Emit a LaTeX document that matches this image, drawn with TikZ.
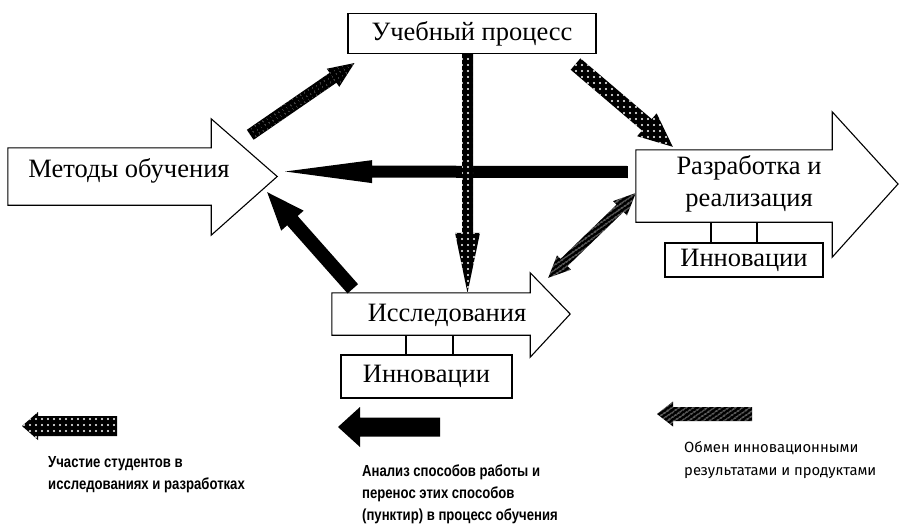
\documentclass[tikz,border=0pt]{standalone}
\usepackage{fontspec}
\setmainfont{Liberation Serif}
\newfontfamily\legsans[FakeStretch=0.82]{Liberation Sans}
\newfontfamily\leghuman{Fira Sans}
\usetikzlibrary{calc,patterns.meta}

\tikzset{
  frame/.style={draw, line width=1.1pt, fill=white, inner sep=0pt},
  body/.style={inner sep=0pt},
  outline/.style={draw, line width=1.1pt, fill=white, line join=miter},
  lbl/.style={font=\fontsize{26.5}{32}\selectfont, inner sep=0pt},
  legbold/.style={font=\legsans\bfseries\fontsize{16}{22}\selectfont, align=left, anchor=west, inner sep=0pt},
  leglight/.style={font=\leghuman\fontsize{14.8}{23}\selectfont, align=left, anchor=west, inner sep=0pt},
  dotsfill/.style={fill=black, postaction={pattern={Dots[radius=1.1pt,distance=6pt]}, pattern color=white}},
  darkfill/.style={fill=black, postaction={pattern={Dots[radius=0.6pt,distance=4pt,angle=30]}, pattern color=black!50}},
  swapfill/.style={fill=black, postaction={pattern={Lines[angle=35,distance=4pt,line width=0.6pt]}, pattern color=white}},
  solidfill/.style={fill=black}
}

% block arrow: style, from, to, half shaft, head length, half head
\newcommand\fatarrow[6]{%
  \coordinate (fa-h) at ($(#3)!#5!(#2)$);
  \fill[#1] ($(#2)!#4!90:(#3)$) -- ($(fa-h)!#4!90:(#3)$) -- ($(fa-h)!#6!90:(#3)$) -- (#3)
    -- ($(fa-h)!#6!-90:(#3)$) -- ($(fa-h)!#4!-90:(#3)$) -- ($(#2)!#4!-90:(#3)$) -- cycle;
}
% same with two heads
\newcommand\fatboth[6]{%
  \coordinate (fa-h) at ($(#3)!#5!(#2)$);
  \coordinate (fa-g) at ($(#2)!#5!(#3)$);
  \fill[#1] (#2) -- ($(fa-g)!#6!90:(#3)$) -- ($(fa-g)!#4!90:(#3)$) -- ($(fa-h)!#4!90:(#3)$)
    -- ($(fa-h)!#6!90:(#3)$) -- (#3) -- ($(fa-h)!#6!-90:(#3)$) -- ($(fa-h)!#4!-90:(#3)$)
    -- ($(fa-g)!#4!-90:(#3)$) -- ($(fa-g)!#6!-90:(#3)$) -- cycle;
}

\begin{document}
\begin{tikzpicture}[x=1pt, y=-1pt]
 \useasboundingbox (0,0) rectangle (902,527);

 % top box
 \node[frame, lbl, minimum width=248pt, minimum height=40pt] (uchp) at (472,33.5) {Учебный процесс};

 % methods
 \node[body, minimum width=203pt, minimum height=57pt] (metody) at (109.5,176.5) {};
 \coordinate (metody-tip) at ($(metody.east)+(66,0)$);
 \draw[outline] (metody.north west) -- (metody.north east) -- ++(0,-29) -- (metody-tip)
   -- ($(metody.south east)+(0,30)$) -- (metody.south east) -- (metody.south west) -- cycle;
 \node[lbl] (metodyt) at (129,171) {Методы обучения};

 % development
 \node[body, minimum width=196pt, minimum height=72pt] (razrab) at (734,186) {};
 \coordinate (razrab-tip) at (898,184);
 \draw[outline] (razrab.north west) -- (razrab.north east) -- ++(0,-38) -- (razrab-tip)
   -- ($(razrab.south east)+(0,35)$) -- (razrab.south east) -- (razrab.south west) -- cycle;
 \node[lbl, align=center] (razrabt) at (749,184) {Разработка и\\реализация};
 \node[frame, lbl, minimum width=158pt, minimum height=34pt] (innov1) at (744,260) {Инновации};
 \draw[line width=1.1pt] ($(razrab.south)+(-23,0)$) -- ($(innov1.north)+(-33,0)$);
 \draw[line width=1.1pt] ($(razrab.south)+(23,0)$) -- ($(innov1.north)+(13,0)$);

 % research
 \node[body, minimum width=198pt, minimum height=42pt] (issl) at (431,314) {};
 \coordinate (issl-tip) at ($(issl.east)+(40,0)$);
 \draw[outline] (issl.north west) -- (issl.north east) -- ++(0,-20) -- (issl-tip)
   -- ($(issl.south east)+(0,22)$) -- (issl.south east) -- (issl.south west) -- cycle;
 \node[lbl] (isslt) at (447,315) {Исследования};
 \node[frame, lbl, minimum width=171pt, minimum height=43pt] (innov2) at (426.5,376.5) {Инновации};
 \draw[line width=1.1pt] ($(issl.south)+(-25,0)$) -- ($(innov2.north)+(-20.5,0)$);
 \draw[line width=1.1pt] ($(issl.south)+(22,0)$) -- ($(innov2.north)+(26.5,0)$);

 % connectors
 \coordinate (c1s) at ($(metody.north east)+(39,-13)$);
 \coordinate (c1e) at ($(uchp.south west)+(7,9)$);
 \coordinate (c2s) at ($(uchp.south east)+(-21,10)$);
 \coordinate (c2e) at ($(razrab.north west)+(37,-3)$);
 \coordinate (c3s) at ($(uchp.south)+(-4.5,0)$);
 \coordinate (c3e) at ($(issl.north)+(36.5,0)$);
 \coordinate (c4s) at ($(razrab.west)+(-8,-14)$);
 \coordinate (c4e) at ($(metody-tip)+(8,-5)$);
 \coordinate (c5s) at ($(issl.north west)+(21,-4)$);
 \coordinate (c5e) at ($(metody.south east)+(56,-13)$);
 \coordinate (c6s) at ($(issl.north east)+(18,-15)$);
 \coordinate (c6e) at ($(razrab.west)+(0,7)$);

 \fatarrow{darkfill}{c1s}{c1e}{6pt}{26pt}{11pt}
 \fatarrow{dotsfill}{c2s}{c2e}{7.5pt}{34pt}{15pt}
 \fatarrow{solidfill}{c4s}{c4e}{6pt}{87pt}{11.5pt}
 \fatarrow{dotsfill}{c3s}{c3e}{5.5pt}{60pt}{12.5pt}
 \fatarrow{solidfill}{c5s}{c5e}{7pt}{38pt}{15pt}
 \fatboth{swapfill}{c6s}{c6e}{5pt}{22pt}{10pt}

 % legend
 \node[legbold] (leg1) at (48,475) {Участие студентов в\\исследованиях и разработках};
 \node[legbold] (leg2) at (362,494) {Анализ способов работы и\\перенос этих способов\\(пунктир) в процесс обучения};
 \node[leglight] (leg3) at (684,460) {Обмен инновационными\\результатами и продуктами};
 \coordinate (l1a) at (117,426); \coordinate (l1b) at (22,426);
 \coordinate (l2a) at (440,427); \coordinate (l2b) at (338,427);
 \coordinate (l3a) at (752,414); \coordinate (l3b) at (657,414);
 \fatarrow{dotsfill}{l1a}{l1b}{10pt}{16pt}{14pt}
 \fatarrow{solidfill}{l2a}{l2b}{9.5pt}{22pt}{20pt}
 \fatarrow{swapfill}{l3a}{l3b}{7pt}{16pt}{12.5pt}
\end{tikzpicture}
\end{document}
